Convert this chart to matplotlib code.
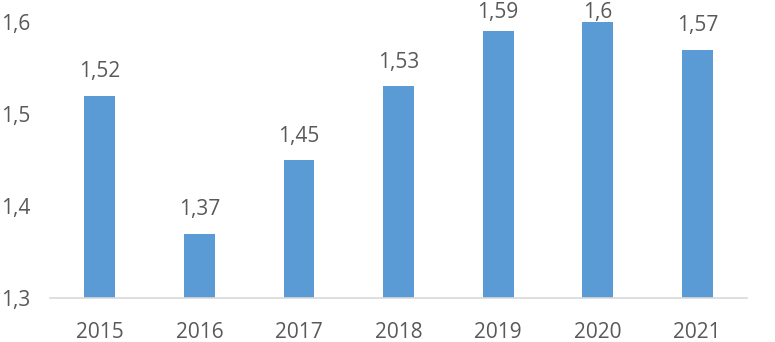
import matplotlib.pyplot as plt
import matplotlib as mpl

mpl.rcParams['font.family'] = ['Open Sans', 'DejaVu Sans']

years = ['2015', '2016', '2017', '2018', '2019', '2020', '2021']
values = [1.52, 1.37, 1.45, 1.53, 1.59, 1.6, 1.57]
yticks = [1.3, 1.4, 1.5, 1.6]

text_col = '#595959'

fig = plt.figure(figsize=(7.75, 3.42), dpi=100)
ax = fig.add_axes([0.0645, 0.1287, 0.8995, 0.807])

x = range(len(years))
ax.bar(x, values, width=0.31, color='#5B9BD5', zorder=2)

# labels sit above the bars, pushed down near the top edge like Excel does
for xi, v in zip(x, values):
    ly = min(v + 0.02, 1.604)
    ax.text(xi, ly, str(v).replace('.', ','), ha='center', va='baseline',
            fontsize=15, color=text_col, clip_on=False)

ax.set_xlim(-0.5, len(years) - 0.5)
ax.set_ylim(1.3, 1.6)
ax.set_xticks(list(x))
ax.set_xticklabels(years)
ax.set_yticks(yticks)
ax.set_yticklabels([str(t).replace('.', ',') for t in yticks])
ax.tick_params(axis='both', length=0, labelsize=15, colors=text_col)
ax.tick_params(axis='x', pad=17)
ax.tick_params(axis='y', pad=14)

for s in ['top', 'right', 'left']:
    ax.spines[s].set_visible(False)
ax.spines['bottom'].set_color('#D9D9D9')
ax.spines['bottom'].set_linewidth(1.2)

fig.savefig('out.png', dpi=100)
